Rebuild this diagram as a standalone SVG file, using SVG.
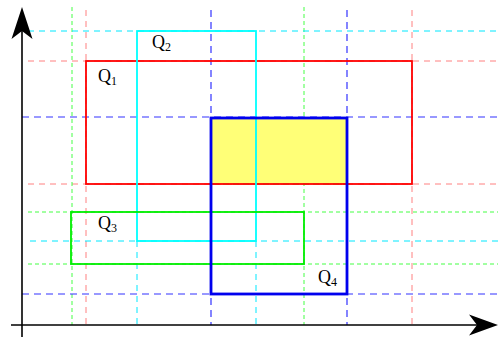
<svg xmlns="http://www.w3.org/2000/svg" width="498" height="337" viewBox="0 0 498 337">
<style>
.dr{stroke:#ff8080;stroke-width:1;stroke-dasharray:6 5;fill:none}
.dg{stroke:#44ff44;stroke-width:1;stroke-dasharray:4 3;fill:none}
.dc{stroke:#00e8ff;stroke-width:1;stroke-dasharray:6 5;fill:none}
.db{stroke:#3333ff;stroke-width:1.2;stroke-dasharray:7 5;fill:none}
.lbl{font-family:"Liberation Serif","Times New Roman",serif;font-size:18px;fill:#000}
.sub{font-size:12px}
.ax{stroke:#000;stroke-width:1.6;fill:none}
</style>
<rect width="498" height="337" fill="#fff"/>
<g id="guides">
<line class="dr" x1="86" y1="10" x2="86" y2="325"/>
<line class="dr" x1="412" y1="10" x2="412" y2="325"/>
<line class="dr" x1="28" y1="61" x2="498" y2="61"/>
<line class="dr" x1="28" y1="184" x2="498" y2="184"/>
<line class="dg" x1="72" y1="7" x2="72" y2="325"/>
<line class="dg" x1="304" y1="7" x2="304" y2="325"/>
<line class="dg" x1="28" y1="212" x2="498" y2="212"/>
<line class="dg" x1="28" y1="264" x2="498" y2="264"/>
<line class="dc" x1="28" y1="31" x2="498" y2="31"/>
<line class="dc" x1="30" y1="241" x2="498" y2="241"/>
<line class="dc" x1="137" y1="241" x2="137" y2="325"/>
<line class="dc" x1="256" y1="241" x2="256" y2="325"/>
<line class="db" x1="211" y1="10" x2="211" y2="325"/>
<line class="db" x1="347" y1="10" x2="347" y2="325"/>
<line class="db" x1="22" y1="117" x2="498" y2="117"/>
<line class="db" x1="22" y1="294" x2="498" y2="294"/>
</g>
<g id="intersection">
<rect x="211" y="118" width="136" height="66" fill="#ffff77" stroke="#66ff66" stroke-width="1.5" stroke-dasharray="6 4"/>
</g>
<g id="Q1">
<rect x="86" y="61" width="326" height="123" fill="none" stroke="#ff0000" stroke-width="1.8"/>
<text class="lbl" x="98" y="82">Q<tspan class="sub" dy="3">1</tspan></text>
</g>
<g id="Q2">
<rect x="137" y="31" width="119" height="210" fill="none" stroke="#00ffff" stroke-width="1.8"/>
<text class="lbl" x="152" y="48">Q<tspan class="sub" dy="3">2</tspan></text>
</g>
<g id="Q3">
<rect x="71" y="212" width="233" height="52" fill="none" stroke="#00ee00" stroke-width="1.8"/>
<text class="lbl" x="98" y="229">Q<tspan class="sub" dy="3">3</tspan></text>
</g>
<g id="Q4">
<rect x="211" y="118" width="136" height="176" fill="none" stroke="#0000ee" stroke-width="2.8"/>
<text class="lbl" x="318" y="283">Q<tspan class="sub" dy="3">4</tspan></text>
</g>
<g id="axes">
<line class="ax" x1="22" y1="26" x2="22" y2="337"/>
<line class="ax" x1="11" y1="325" x2="484" y2="325"/>
<path d="M22,7 L32.5,39 L22,31 L11.5,39 Z" fill="#000"/>
<path d="M498,325 L469,335.5 L477,325 L469,314.5 Z" fill="#000"/>
</g>
</svg>
